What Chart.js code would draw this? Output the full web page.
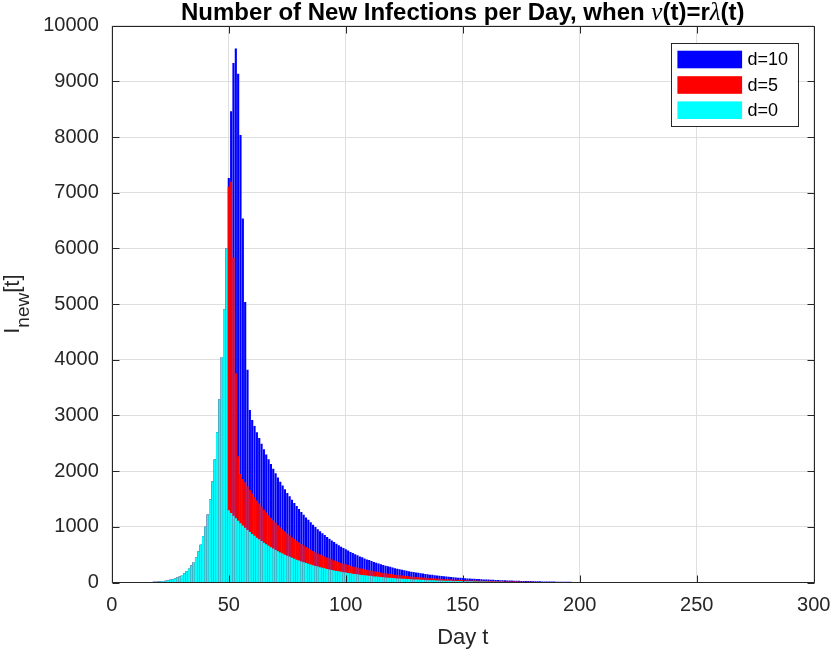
<!DOCTYPE html>
<html>
<head>
<meta charset="utf-8">
<script src="https://cdn.jsdelivr.net/npm/chart.js@4.4.0/dist/chart.umd.min.js"></script>
<style>
  html, body { margin: 0; padding: 0; background: #fff; }
  #wrap { width: 830px; height: 653px; position: relative; }
</style>
</head>
<body>
<div id="wrap"><canvas id="infectionsChart"></canvas></div>
<script>
// days 0..49, same for every delay (the curves only split at day 50)
const growth = [0, 1, 1, 1, 1, 1, 1, 1, 1, 2,
  2, 3, 3, 4, 5, 6, 8, 10, 12, 15,
  18, 22, 27, 33, 40, 49, 60, 73, 90, 110,
  135, 165, 200, 245, 305, 370, 455, 555, 680, 830,
  1000, 1220, 1490, 1815, 2210, 2700, 3290, 4050, 4910, 6000];

// days 50..219 for d=0
const tailD0 = [1300, 1249, 1200, 1153, 1108, 1065, 1024, 984, 945, 908,
  873, 839, 806, 775, 744, 715, 687, 661, 635, 610,
  586, 563, 541, 520, 500, 480, 462, 444, 426, 410,
  394, 378, 364, 349, 336, 323, 310, 298, 286, 275,
  264, 254, 244, 235, 225, 217, 208, 200, 192, 185,
  178, 171, 164, 158, 152, 146, 140, 135, 129, 124,
  120, 115, 110, 106, 102, 98, 94, 90, 87, 84,
  80, 77, 74, 71, 68, 66, 63, 61, 58, 56,
  54, 52, 50, 48, 46, 44, 42, 41, 39, 38,
  36, 35, 33, 32, 31, 30, 28, 27, 26, 25,
  24, 23, 22, 21, 21, 20, 19, 18, 17, 17,
  16, 15, 15, 14, 13, 13, 12, 12, 11, 11,
  10, 10, 9, 9, 9, 8, 8, 8, 7, 7,
  7, 6, 6, 6, 6, 5, 5, 5, 5, 5,
  4, 4, 4, 4, 4, 3, 3, 3, 3, 3,
  3, 3, 3, 2, 2, 2, 2, 2, 2, 2,
  2, 2, 2, 1, 1, 1, 1, 1, 1, 1];

// days 50..219 for d=5
const tailD5 = [7110, 7200, 5840, 3760, 2270, 1950, 1860, 1800, 1729, 1662,
  1598, 1535, 1475, 1418, 1362, 1308, 1257, 1210, 1162, 1116,
  1072, 1030, 990, 952, 915, 878, 845, 812, 780, 750,
  721, 692, 666, 639, 615, 591, 567, 545, 523, 503,
  483, 465, 447, 430, 412, 397, 381, 366, 351, 339,
  326, 313, 300, 289, 278, 267, 256, 247, 236, 227,
  220, 210, 201, 194, 187, 179, 172, 165, 159, 154,
  146, 141, 135, 130, 124, 121, 115, 112, 106, 102,
  99, 95, 92, 88, 84, 81, 77, 75, 71, 70,
  66, 64, 60, 59, 57, 55, 51, 49, 48, 46,
  44, 42, 40, 38, 38, 37, 35, 33, 31, 31,
  29, 27, 27, 26, 24, 24, 22, 22, 20, 20,
  18, 18, 17, 16, 16, 15, 15, 14, 13, 13,
  12, 11, 11, 11, 10, 10, 9, 9, 9, 8,
  8, 8, 7, 7, 7, 6, 6, 6, 6, 5,
  5, 5, 5, 4, 4, 4, 4, 4, 4, 3,
  3, 3, 3, 3, 3, 2, 2, 2, 2, 2];

// days 50..219 for d=10
const tailD10 = [7266, 8465, 9330, 9590, 9137, 8040, 6540, 5040, 3820, 3100,
  2920, 2810, 2700, 2596, 2492, 2395, 2301, 2214, 2127, 2044,
  1963, 1886, 1812, 1742, 1675, 1608, 1548, 1487, 1427, 1374,
  1320, 1266, 1219, 1169, 1126, 1082, 1039, 998, 958, 921,
  884, 851, 817, 787, 754, 727, 697, 670, 643, 620,
  596, 573, 549, 529, 509, 489, 469, 452, 432, 415,
  402, 385, 369, 355, 342, 328, 315, 302, 291, 281,
  268, 258, 248, 238, 228, 221, 211, 204, 194, 188,
  181, 174, 168, 161, 154, 147, 141, 137, 131, 127,
  121, 117, 111, 107, 104, 100, 94, 90, 87, 84,
  80, 77, 74, 71, 68, 66, 63, 61, 58, 56,
  54, 52, 50, 48, 46, 44, 42, 41, 39, 38,
  36, 35, 33, 32, 31, 29, 28, 27, 26, 25,
  24, 23, 22, 21, 20, 19, 18, 18, 17, 16,
  15, 15, 14, 14, 13, 12, 12, 11, 11, 10,
  10, 9, 9, 9, 8, 8, 7, 7, 7, 6,
  6, 6, 6, 5, 5, 5, 5, 4, 4, 4];

const seriesLabels = ['d=10', 'd=5', 'd=0'];
const seriesColors = ['#0000ff', '#ff0000', '#00ffff'];
const xTickValues = [0, 50, 100, 150, 200, 250, 300];
const yTickValues = [0, 1000, 2000, 3000, 4000, 5000, 6000, 7000, 8000, 9000, 10000];

const d0 = growth.concat(tailD0);
const d5 = growth.concat(tailD5);
const d10 = growth.concat(tailD10);

const sans = '"Liberation Sans", Arial, Helvetica, sans-serif';
const axisColor = '#262626';
const gridColor = '#dfdfdf';

function toPoints(values) {
  return values.map((v, i) => ({ x: i, y: v }));
}

// title with greek letters in italic
function drawTitle(chart) {
  const { ctx, chartArea: a } = chart;
  const parts = [
    { text: 'Number of New Infections per Day, when ', font: 'bold 24px ' + sans },
    { text: '\u03BD', font: 'italic 25px "Liberation Serif", serif' },
    { text: '(t)=r', font: 'bold 24px ' + sans },
    { text: '\u03BB', font: 'italic 25px "Liberation Serif", serif' },
    { text: '(t)', font: 'bold 24px ' + sans }
  ];
  ctx.save();
  ctx.fillStyle = '#000';
  ctx.textBaseline = 'alphabetic';
  let total = 0;
  parts.forEach(p => { ctx.font = p.font; p.w = ctx.measureText(p.text).width; total += p.w; });
  let x = (a.left + a.right) / 2 - total / 2;
  parts.forEach(p => {
    ctx.font = p.font;
    ctx.fillText(p.text, x, 20);
    x += p.w;
  });
  ctx.restore();
}

// y label I_new[t], rotated
function drawYLabel(chart) {
  const { ctx, chartArea: a } = chart;
  const parts = [
    { text: 'I', font: '22px ' + sans, shift: 0 },
    { text: 'new', font: '19px ' + sans, shift: 10 },
    { text: '[t]', font: '22px ' + sans, shift: 0 }
  ];
  ctx.save();
  ctx.translate(18.5, (a.top + a.bottom) / 2);
  ctx.rotate(-Math.PI / 2);
  ctx.fillStyle = axisColor;
  ctx.textBaseline = 'alphabetic';
  let total = 0;
  parts.forEach(p => { ctx.font = p.font; p.w = ctx.measureText(p.text).width; total += p.w; });
  let x = -total / 2;
  parts.forEach(p => {
    ctx.font = p.font;
    ctx.fillText(p.text, x, p.shift);
    x += p.w;
  });
  ctx.restore();
}

function drawLegend(chart) {
  const { ctx, chartArea: a } = chart;
  const bx = a.right - 143, by = a.top + 17.5, bw = 126.6, bh = 83.4;
  ctx.save();
  ctx.fillStyle = '#fff';
  ctx.fillRect(bx, by, bw, bh);
  ctx.strokeStyle = axisColor;
  ctx.lineWidth = 1;
  ctx.strokeRect(Math.round(bx) + 0.5, Math.round(by) + 0.5, Math.round(bw), Math.round(bh));
  ctx.font = '18px ' + sans;
  ctx.textBaseline = 'middle';
  const rows = [16.2, 41.7, 66.9];
  chart.data.datasets.forEach((ds, i) => {
    const cy = by + rows[i];
    ctx.fillStyle = ds.backgroundColor;
    ctx.fillRect(bx + 6.6, cy - 8.8, 64.7, 17.6);
    ctx.fillStyle = '#000';
    ctx.fillText(ds.label, bx + 76.6, cy + 1);
  });
  ctx.restore();
}

const framePlugin = {
  id: 'frame',
  afterDatasetsDraw(chart) {
    const { ctx, chartArea: a, scales } = chart;
    const l = Math.round(a.left) + 0.5, r = Math.round(a.right) + 0.5;
    const t = Math.round(a.top) + 0.5, b = Math.round(a.bottom) - 0.5;
    ctx.save();
    ctx.strokeStyle = axisColor;
    ctx.lineWidth = 1;
    ctx.beginPath();
    ctx.rect(l, t, r - l, b - t);
    xTickValues.forEach(v => {
      const px = Math.round(scales.x.getPixelForValue(v)) + 0.5;
      ctx.moveTo(px, b); ctx.lineTo(px, b - 7);
      ctx.moveTo(px, t); ctx.lineTo(px, t + 7);
    });
    yTickValues.forEach(v => {
      const py = Math.round(scales.y.getPixelForValue(v)) + 0.5;
      ctx.moveTo(l, py); ctx.lineTo(l + 7, py);
      ctx.moveTo(r, py); ctx.lineTo(r - 7, py);
    });
    ctx.stroke();
    ctx.restore();
    drawLegend(chart);
  },
  afterDraw(chart) {
    drawTitle(chart);
    drawYLabel(chart);
  }
};

const ctx = document.getElementById('infectionsChart').getContext('2d');

const infectionsChart = new Chart(ctx, {
  type: 'bar',
  data: {
    datasets: [
      { label: seriesLabels[0], data: toPoints(d10), backgroundColor: seriesColors[0], order: 3 },
      { label: seriesLabels[1], data: toPoints(d5), backgroundColor: seriesColors[1], order: 2 },
      { label: seriesLabels[2], data: toPoints(d0), backgroundColor: seriesColors[2], order: 1 }
    ]
  },
  options: {
    responsive: true,
    maintainAspectRatio: false,
    animation: false,
    layout: {
      padding: { left: 0, top: 25.8, right: 16.2, bottom: 0 }
    },
    datasets: {
      bar: { grouped: false, barPercentage: 0.92, categoryPercentage: 1, borderWidth: 0 }
    },
    scales: {
      x: {
        type: 'linear',
        min: 0,
        max: 300,
        offset: false,
        grid: { offset: false, color: gridColor, drawTicks: false },
        border: { display: false },
        ticks: {
          stepSize: 50,
          padding: 11,
          maxRotation: 0,
          color: axisColor,
          font: { family: sans, size: 20 },
          callback: v => String(v)
        },
        title: {
          display: true,
          text: 'Day t',
          color: axisColor,
          font: { family: sans, size: 22 },
          padding: { top: 0, bottom: 2 }
        },
        afterFit: s => { s.height = 70.5; s.paddingLeft = 0; s.paddingRight = 0; }
      },
      y: {
        min: 0,
        max: 10000,
        grid: { color: gridColor, drawTicks: false },
        border: { display: false },
        ticks: {
          stepSize: 1000,
          padding: 13,
          color: axisColor,
          font: { family: sans, size: 20 },
          callback: v => String(v)
        },
        afterFit: s => { s.width = 111.8; s.paddingTop = 0; s.paddingBottom = 0; }
      }
    },
    plugins: {
      legend: { display: false },
      tooltip: { enabled: false }
    }
  },
  plugins: [framePlugin]
});
</script>
</body>
</html>
